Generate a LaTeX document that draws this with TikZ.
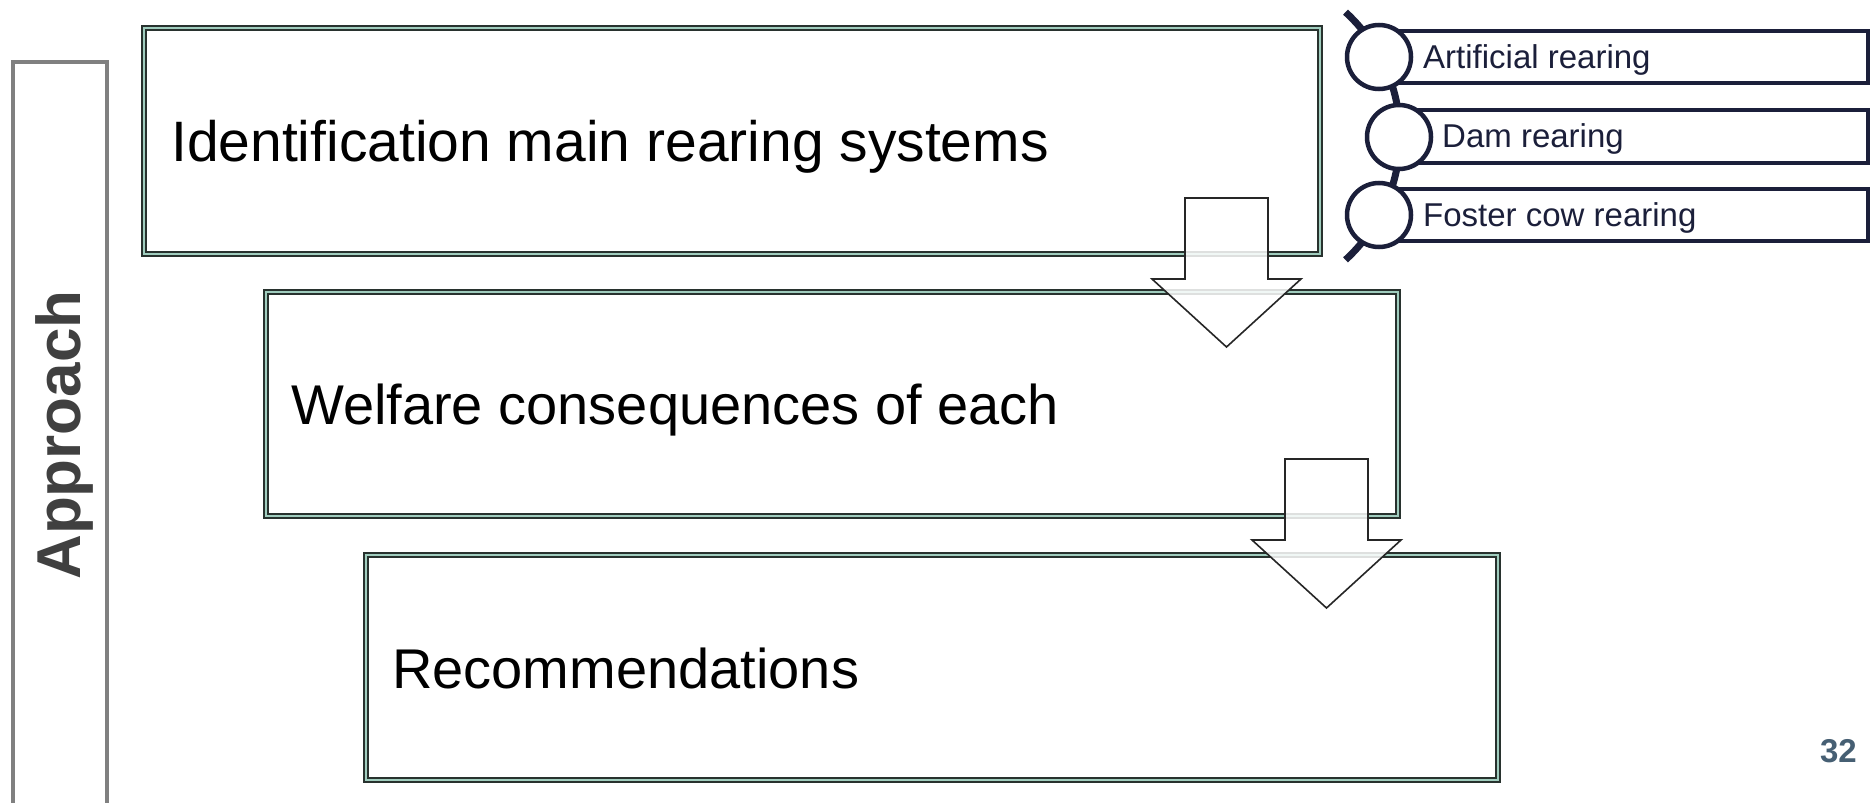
\documentclass[tikz,border=0pt]{standalone}
\usepackage{fontspec}
\setmainfont{Liberation Sans}
\definecolor{boxdark}{RGB}{40,50,46}
\definecolor{boxgreen}{RGB}{160,205,190}
\definecolor{navy}{RGB}{27,31,58}
\definecolor{framegray}{RGB}{128,128,128}
\definecolor{apptext}{RGB}{64,64,64}
\definecolor{pagenum}{RGB}{70,95,115}
\tikzset{
  mainbox/.style={draw=boxdark, line width=2pt, double=boxgreen, double distance=2.5pt, fill=white, inner sep=0pt},
  maintext/.style={anchor=base west, inner sep=0pt, font=\fontsize{57}{60}\selectfont, text=black},
  blockarrow/.style={draw=black!85, line width=1.6pt, fill=white, fill opacity=0.85, line join=miter},
  listrect/.style={draw=navy, line width=4.5pt, fill=white, inner sep=0pt},
  listcircle/.style={circle, draw=navy, line width=4.5pt, fill=white, minimum size=64pt, inner sep=0pt},
  listtext/.style={anchor=base west, inner sep=0pt, font=\fontsize{33}{35}\selectfont, text=navy},
}
\begin{document}
\begin{tikzpicture}[x=1pt, y=-1pt]
\useasboundingbox (0,0) rectangle (1872,803);
\fill[white] (0,0) rectangle (1872,803);

% Approach frame
\draw[framegray, line width=4pt] (13,900) -- (13,62) -- (107,62) -- (107,900);
\node[rotate=90, anchor=base, inner sep=0pt, font=\bfseries\fontsize{62}{64}\selectfont, text=apptext] (approach) at (80,435) {Approach};

% main boxes
\node[mainbox, minimum width=1176pt, minimum height=226pt] (b1) at (732,141) {};
\node[maintext] (t1) at (171,161) {Identification main rearing systems};
\node[mainbox, minimum width=1132pt, minimum height=224pt] (b2) at (832,404) {};
\node[maintext, font=\fontsize{56}{60}\selectfont] (t2) at (291,424) {Welfare consequences of each};
\node[mainbox, minimum width=1132pt, minimum height=225pt] (b3) at (932,667.5) {};
\node[maintext, font=\fontsize{56}{60}\selectfont] (t3) at (392,688) {Recommendations};

% block arrows
\draw[blockarrow] (1185,198) -- (1268,198) -- (1268,279) -- (1301,279) -- (1226.5,347) -- (1152,279) -- (1185,279) -- cycle;
\draw[blockarrow] (1285,459) -- (1368,459) -- (1368,540) -- (1401,540) -- (1326.5,608) -- (1252,540) -- (1285,540) -- cycle;

% vertical circle list
\coordinate (arcc) at (1232,136);
\draw[navy, line width=7pt] (arcc) ++(-47.5:168) arc[start angle=-47.5, end angle=47.5, radius=168];
\node[listrect, minimum width=489pt, minimum height=52pt] (r1) at (1623.5,57) {};
\node[listrect, minimum width=469pt, minimum height=53pt] (r2) at (1633.5,136.5) {};
\node[listrect, minimum width=489pt, minimum height=52pt] (r3) at (1623.5,215) {};
\node[listcircle] (c1) at (1379,57) {};
\node[listcircle] (c2) at (1399,137) {};
\node[listcircle] (c3) at (1379,215) {};
\node[listtext] (l1) at (1423,68) {Artificial rearing};
\node[listtext] (l2) at (1442,147.5) {Dam rearing};
\node[listtext] (l3) at (1423,226) {Foster cow rearing};

% page number
\node[anchor=base east, inner sep=0pt, font=\bfseries\fontsize{33}{35}\selectfont, text=pagenum] (pnum) at (1857,762) {32};
\end{tikzpicture}
\end{document}
